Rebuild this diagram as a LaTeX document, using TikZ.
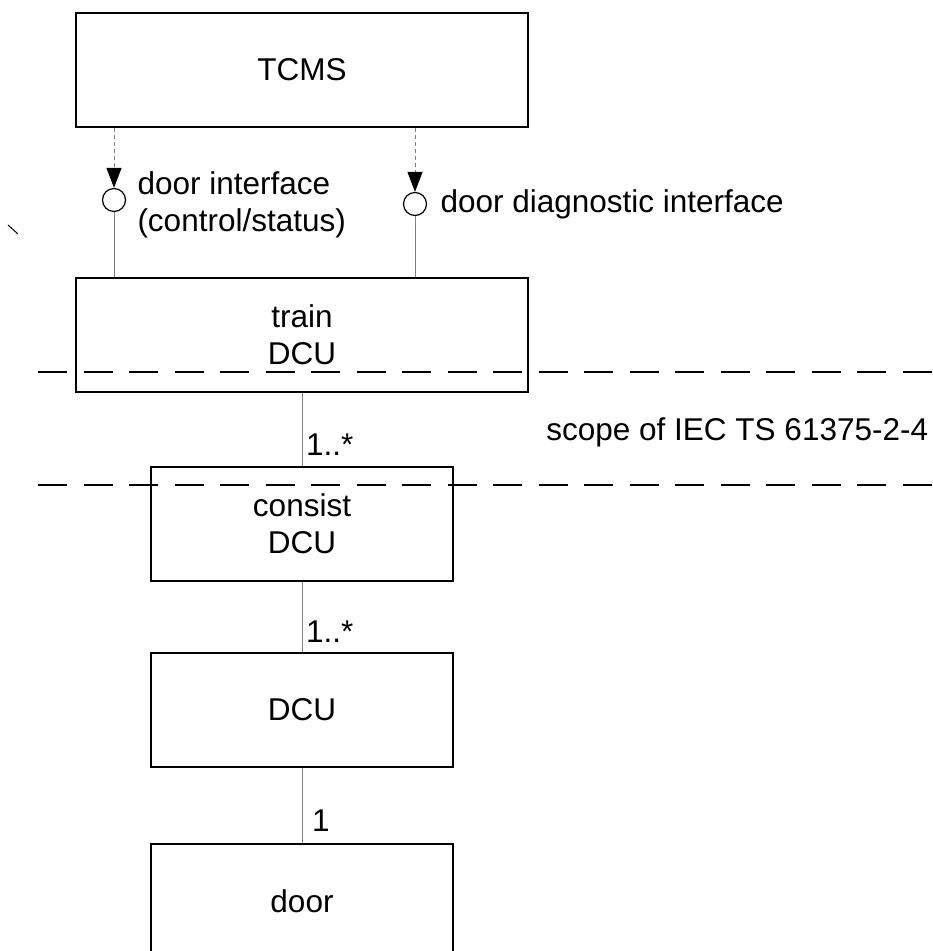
\documentclass[tikz,border=0pt]{standalone}
\usepackage{fontspec}
\setmainfont{Liberation Sans}
\usetikzlibrary{arrows.meta, positioning}
\tikzset{
    block/.style = {draw, rectangle, line width=1.25pt, inner sep=0pt, minimum width=226pt, minimum height=57pt, align=center},
    smallblock/.style = {block, minimum width=151pt},
    iface/.style = {draw, fill=white, circle, inner sep=0pt, minimum size=11.5pt, line width=0.6pt},
    link/.style = {draw, gray, line width=0.5pt},
    uses/.style = {draw, gray, line width=0.5pt, dash pattern=on 2pt off 1.5pt, -{Triangle[length=10pt, width=7.5pt, black]}},
    boundary/.style = {draw, line width=0.65pt, dash pattern=on 14.5pt off 8.25pt},
    mult/.style = {inner sep=0pt, anchor=base west}
}

\begin{document}
\begin{tikzpicture}[x=0.5pt, y=-0.5pt, every node/.style={font=\fontsize{15.75}{18.5}\selectfont}]
        \useasboundingbox (0, 0) rectangle (932, 951);
        % blocks
        \node[block] (tcms) at (302, 70) {TCMS};
        \node[block, below=74.25pt of tcms] (train) {train\\DCU};
        \node[smallblock, below=36.25pt of train] (consist) {consist\\DCU};
        \node[smallblock, below=34.75pt of consist] (dcu) {DCU};
        \node[smallblock, below=37.25pt of dcu] (door) {door};
        % interfaces
        \node[iface] (ifctl) at (114, 200) {};
        \node[iface] (ifdiag) at (415, 204) {};
        \node[right=5.5pt of ifctl, yshift=-2.5pt, align=left, inner sep=0pt] (ctllabel) {door interface\\(control/status)};
        \node[right=6.5pt of ifdiag, inner sep=0pt] (diaglabel) {door diagnostic interface};
        \path[uses] (ifctl |- tcms.south) -- (ifctl.north);
        \path[uses] (ifdiag |- tcms.south) -- (ifdiag.north);
        \path[link] (ifctl.south) -- (ifctl |- train.north);
        \path[link] (ifdiag.south) -- (ifdiag |- train.north);
        % associations
        \path[link] (train) -- (consist);
        \path[link] (consist) -- (dcu);
        \path[link] (dcu) -- (door);
        \node[mult] (mconsist) at ([xshift=1.8pt, yshift=5pt]consist.north) {1..*};
        \node[mult] (mdcu) at ([xshift=1.8pt, yshift=4.5pt]dcu.north) {1..*};
        \node[mult] (mdoor) at ([xshift=4.8pt, yshift=5.5pt]door.north) {1};
        % scope
        \coordinate (upperw) at (38, 372);
        \coordinate (lowerw) at (38, 485);
        \path[boundary] (upperw) -- (upperw -| 932, 0);
        \path[boundary] (lowerw) -- (lowerw -| 932, 0);
        \node[anchor=west, inner sep=0pt] (scopelabel) at (546, 432) {scope of IEC TS 61375-2-4};
        \path[draw, line width=0.5pt] (8, 225) -- (18, 234);
    \end{tikzpicture}
\end{document}
